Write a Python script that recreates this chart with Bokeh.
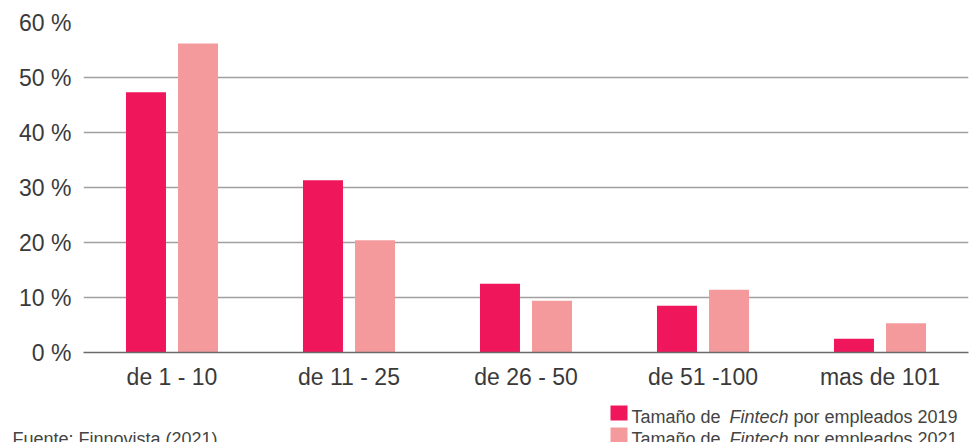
from bokeh.plotting import figure
from bokeh.models import ColumnDataSource, FactorRange, Range1d, FixedTicker, PrintfTickFormatter, Label
from bokeh.layouts import column
from bokeh.transform import dodge
from bokeh.embed import file_html
from bokeh.resources import INLINE

categories = ["de 1 - 10", "de 11 - 25", "de 26 - 50", "de 51 -100", "mas de 101"]
values_2019 = [47.3, 31.3, 12.5, 8.5, 2.5]
values_2021 = [56.2, 20.4, 9.4, 11.4, 5.3]
y_ticks = [0, 10, 20, 30, 40, 50, 60]
legend_prefix = "Tamaño de"
legend_italic = "Fintech"
legend_suffix_2019 = "por empleados 2019"
legend_suffix_2021 = "por empleados 2021"
source_text = "Fuente: Finnovista (2021)"

C2019 = "#EF165C"
C2021 = "#F49A9D"
FONT = "Liberation Sans"

src = ColumnDataSource(dict(cat=categories, v19=values_2019, v21=values_2021))

p = figure(width=969, height=400, x_range=FactorRange(*categories, range_padding=0),
           y_range=Range1d(0, 60), output_backend="svg", toolbar_location=None,
           min_border_left=83, min_border_right=1, min_border_top=22, min_border_bottom=48)
p.outline_line_color = None
p.background_fill_color = "white"
p.border_fill_color = "white"
p.frame_align = False

p.vbar(x=dodge("cat", -0.147, range=p.x_range), top="v19", width=0.226, source=src,
       fill_color=C2019, line_color=None)
p.vbar(x=dodge("cat", 0.147, range=p.x_range), top="v21", width=0.226, source=src,
       fill_color=C2021, line_color=None)

p.xgrid.grid_line_color = None
p.ygrid.grid_line_color = "#a0a0a0"
p.ygrid.grid_line_width = 1.3
p.ygrid.ticker = FixedTicker(ticks=y_ticks)

p.yaxis.ticker = FixedTicker(ticks=y_ticks)
p.yaxis.formatter = PrintfTickFormatter(format="%d %%")
p.yaxis.axis_line_color = None
p.yaxis.major_tick_line_color = None
p.yaxis.minor_tick_line_color = None
p.yaxis.major_label_standoff = 6
p.yaxis.major_label_text_font = FONT
p.yaxis.major_label_text_font_size = "23px"
p.yaxis.major_label_text_color = "#3a3a3a"

p.xaxis.axis_line_color = "#6a6a6a"
p.xaxis.axis_line_width = 1.5
p.xaxis.major_tick_line_color = None
p.xaxis.minor_tick_line_color = None
p.xaxis.major_label_standoff = 5
p.xaxis.major_label_text_font = FONT
p.xaxis.major_label_text_font_size = "23px"
p.xaxis.major_label_text_color = "#3a3a3a"

# bottom strip for legend and source: data units = pixels from strip's top-left
q = figure(width=969, height=42, x_range=Range1d(0, 969), y_range=Range1d(42, 0),
           output_backend="svg", toolbar_location=None,
           min_border_left=0, min_border_right=0, min_border_top=0, min_border_bottom=0)
q.frame_align = False
q.axis.visible = False
q.grid.visible = False
q.outline_line_color = None
q.background_fill_color = "white"
q.border_fill_color = "white"

def lab(text, x, y, style="normal", size="18px", color="#444444"):
    q.add_layout(Label(text=text, x=x, y=y, text_font=FONT, text_font_size=size,
                       text_font_style=style, text_color=color, text_baseline="alphabetic"))

q.quad(left=[610, 610], right=[627, 627], top=[5, 27], bottom=[20, 42],
       fill_color=[C2019, C2021], line_color=None)
lab(legend_prefix, 631, 16)
lab(legend_italic, 729, 16, style="italic")
lab(legend_suffix_2019, 793, 16)
lab(legend_prefix, 631, 38)
lab(legend_italic, 729, 38, style="italic")
lab(legend_suffix_2021, 793, 38)
lab(source_text, 12, 38)

layout = column(p, q, spacing=0)
open("out.html", "w").write(file_html(layout, INLINE))
